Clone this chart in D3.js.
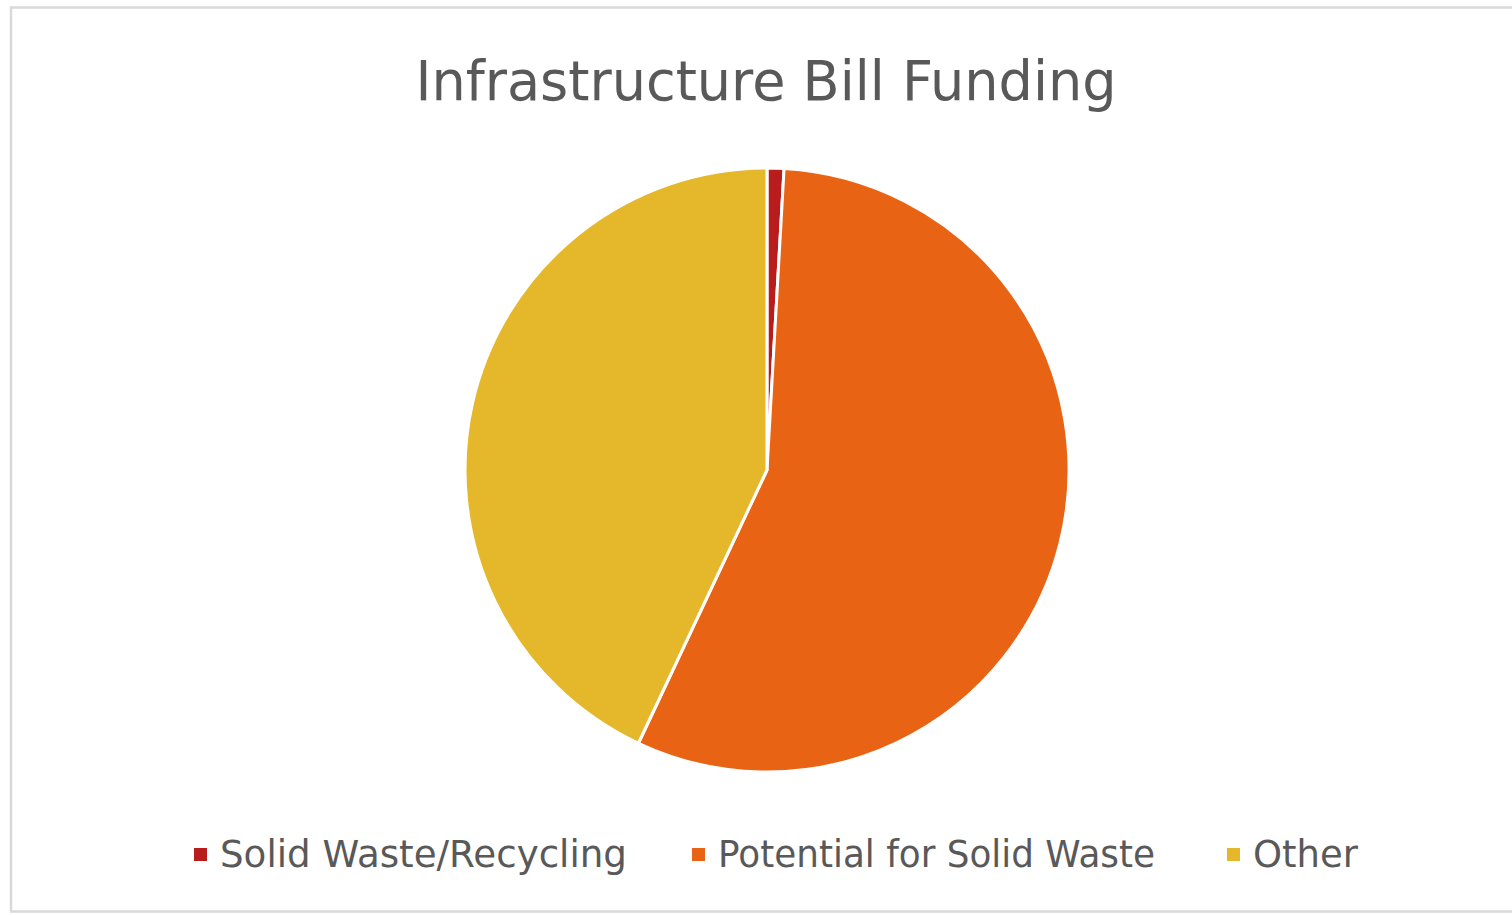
<!DOCTYPE html>
<html>
<head>
<meta charset="utf-8">
<script src="https://cdn.jsdelivr.net/npm/d3@7"></script>
<style>
  html, body { margin: 0; padding: 0; background: #fff; }
  svg { display: block; }
</style>
</head>
<body>
<div id="grafico"></div>
<script>
// datos (porcentaje del total)
var categorias = ["Solid Waste/Recycling", "Potential for Solid Waste", "Other"];
var valores = [0.9, 56.1, 43.0];
var colores = ["#B81C1C", "#E96314", "#E5B82C"];
var titulo = "Infrastructure Bill Funding";

var width = 1512, height = 915;
var fuente = "'DejaVu Sans', sans-serif";

var svg = d3.select("#grafico").append("svg")
    .attr("width", width)
    .attr("height", height);

// marco del grafico
svg.append("rect")
   .attr("x", 11)
   .attr("y", 7.5)
   .attr("width", width + 20)
   .attr("height", 904)
   .attr("fill", "#fff")
   .attr("stroke", "#d9d9d9")
   .attr("stroke-width", 2.5);

// titulo
svg.append("text")
   .attr("x", 766)
   .attr("y", 100)
   .attr("text-anchor", "middle")
   .attr("font-family", fuente)
   .attr("font-size", 56)
   .attr("fill", "#595959")
   .attr("textLength", 701)
   .attr("lengthAdjust", "spacingAndGlyphs")
   .text(titulo);

// pastel
var datos = categorias.map(function(c, i) { return {nombre: c, valor: valores[i]}; });
var z = d3.scaleOrdinal().domain(categorias).range(colores);
var pie = d3.pie().sort(null).value(function(d) { return d.valor; });
var arco = d3.arc().innerRadius(0).outerRadius(302);

var g = svg.append("g").attr("transform", "translate(767,470)");
g.selectAll("path")
 .data(pie(datos))
 .enter().append("path")
 .attr("d", arco)
 .attr("fill", function(d) { return z(d.data.nombre); })
 .attr("stroke", "#fff")
 .attr("stroke-width", 3)
 .attr("stroke-linejoin", "round");

// leyenda
var posX = [194, 692, 1227];
var anchos = [407, 437, 105];
var leyenda = svg.append("g")
    .selectAll("g")
    .data(categorias)
    .enter().append("g")
    .attr("transform", function(d, i) { return "translate(" + posX[i] + ",0)"; });

leyenda.append("rect")
       .attr("x", 0)
       .attr("y", 848)
       .attr("width", 13)
       .attr("height", 13)
       .attr("fill", z);

leyenda.append("text")
       .attr("x", 26)
       .attr("y", 867)
       .attr("font-family", fuente)
       .attr("font-size", 37)
       .attr("fill", "#595959")
       .attr("textLength", function(d, i) { return anchos[i]; })
       .attr("lengthAdjust", "spacingAndGlyphs")
       .text(function(d) { return d; });
</script>
</body>
</html>
